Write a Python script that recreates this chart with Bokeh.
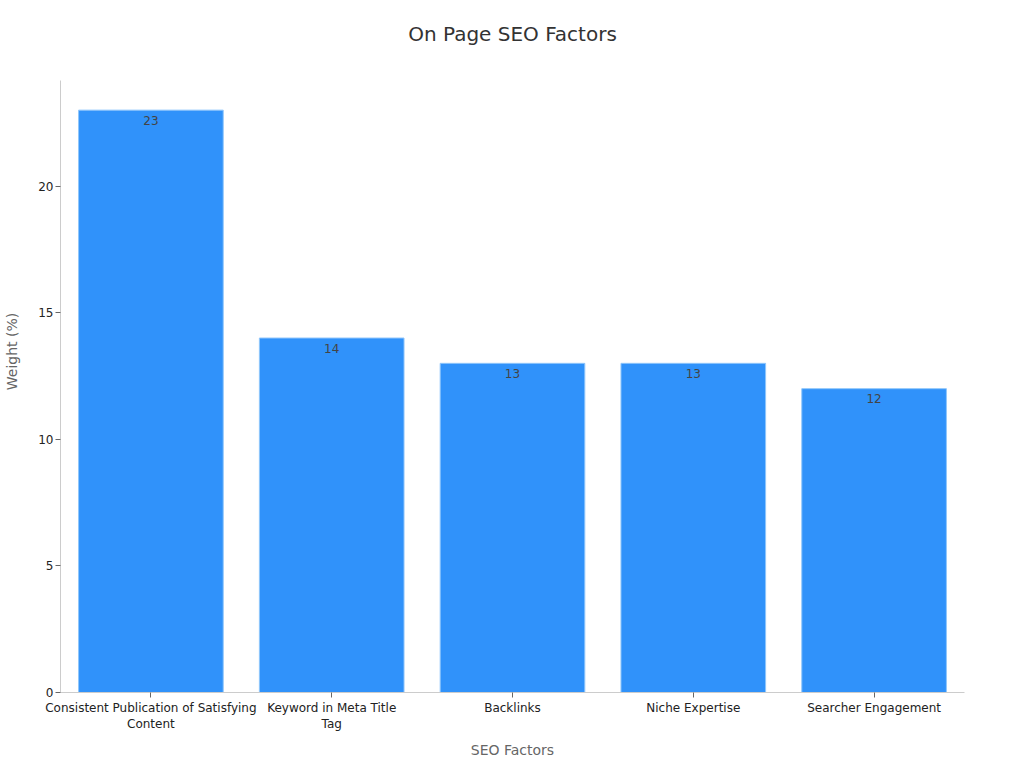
from bokeh.plotting import figure
from bokeh.models import ColumnDataSource, FactorRange, Range1d, Label
from bokeh.core.properties import value
from bokeh.embed import file_html
from bokeh.resources import INLINE

categories = ["Consistent Publication of Satisfying\nContent", "Keyword in Meta Title\nTag", "Backlinks", "Niche Expertise", "Searcher Engagement"]
weights = [23, 14, 13, 13, 12]
y_ticks = [0, 5, 10, 15, 20]
chart_title = "On Page SEO Factors"
x_title = "SEO Factors"
y_title = "Weight (%)"

FONT = "DejaVu Sans"
src = ColumnDataSource(dict(cat=categories, w=weights, txt=[str(v) for v in weights]))
p = figure(width=1024, height=768, output_backend="svg", toolbar_location=None,
           x_range=FactorRange(factors=categories, range_padding=0, group_padding=0),
           y_range=Range1d(0, 26.935),
           min_border_left=60, min_border_right=60, min_border_top=10, min_border_bottom=76)
p.outline_line_color = None
p.grid.grid_line_color = None
p.vbar(x="cat", top="w", width=0.8, source=src, fill_color="#3092fa", line_color="#8fc6fb", line_width=1)
p.text(x="cat", y="w", text="txt", source=src, text_font=value(FONT), text_font_size="12px", text_color="#444444",
       text_align="center", text_baseline="middle", y_offset=10)

for ax in (p.xaxis[0], p.yaxis[0]):
    ax.axis_line_color = "#cccccc"
    ax.axis_line_width = 1
    ax.major_tick_line_color = "#666666"
    ax.major_tick_in = 0
    ax.major_tick_out = 5
    ax.minor_tick_line_color = None
    ax.major_label_text_font = FONT
    ax.major_label_text_font_size = "12px"
    ax.major_label_text_color = "#222222"
    ax.axis_label_text_font = FONT
    ax.axis_label_text_font_size = "14px"
    ax.axis_label_text_font_style = "normal"
    ax.axis_label_text_color = "#666666"
p.yaxis[0].ticker = y_ticks
p.yaxis[0].bounds = (0, 24.17)
p.yaxis[0].major_label_standoff = 2
p.xaxis[0].major_label_standoff = 3
p.xaxis[0].major_label_orientation = "horizontal"
p.xaxis[0].axis_label = x_title
p.yaxis[0].axis_label = y_title
p.xaxis[0].axis_label_standoff = 8
p.yaxis[0].axis_label_standoff = 15

p.add_layout(Label(x=452, y=659, x_units="screen", y_units="screen", text=chart_title, text_font=FONT,
                   text_font_size="20px", text_color="#333333", text_align="center", text_baseline="middle"))

open("out.html", "w").write(file_html(p, INLINE))
